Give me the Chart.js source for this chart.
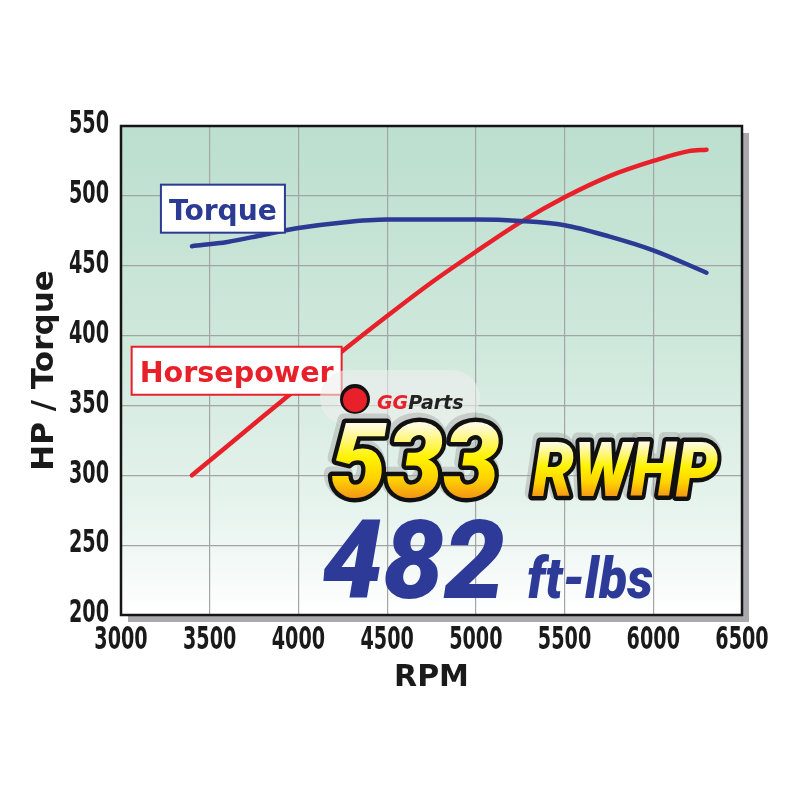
<!DOCTYPE html>
<html><head><meta charset="utf-8">
<script src="https://cdn.jsdelivr.net/npm/chart.js@4"></script>
<style>html,body{margin:0;padding:0;background:#fff}#wrap{width:800px;height:800px}</style>
</head><body><div id="wrap"><canvas id="c" width="800" height="800"></canvas></div>
<script>
// ---- data ----
const rpmTorque  = [3400, 3600, 3800, 4000, 4250, 4500, 5000, 5250, 5500, 5750, 6000, 6300];
const torque     = [464,  467,  472,  477,  481,  483,  483,  482,  479,  471,  461,  445];
const rpmHP      = [3400, 3600, 3800, 4000, 4200, 4500, 4750, 5000, 5250, 5500, 5750, 6000, 6200, 6300];
const horsepower = [300,  321,  342,  363,  384,  414,  438,  460,  481,  499,  514,  525,  532,  533];
const xTickValues = [3000, 3500, 4000, 4500, 5000, 5500, 6000, 6500];
const yTickValues = [200, 250, 300, 350, 400, 450, 500, 550];
const seriesNames = ['Torque', 'Horsepower'];
const peakHP = '533', peakHPUnit = 'RWHP';
const peakTq = '482', peakTqUnit = 'ft-lbs';
const xTitle = 'RPM', yTitle = 'HP / Torque';
const watermark = ['GG', 'Parts'];

const BLUE = '#2b3a93', RED = '#e8202a';
const AXISFONT = "'DejaVu Sans',sans-serif";

const pts = (xs, ys) => xs.map((x, i) => ({x, y: ys[i]}));

const bgPlugin = {
  id: 'bg',
  beforeDraw(chart) {
    const {ctx, chartArea: a} = chart;
    ctx.save();
    ctx.fillStyle = '#a9a9ae';
    ctx.fillRect(a.left + 7, a.top + 7, a.right - a.left, a.bottom - a.top);
    const g = ctx.createLinearGradient(0, a.top, 0, a.bottom);
    g.addColorStop(0, '#bcdfcf');
    g.addColorStop(0.45, '#cfe8dc');
    g.addColorStop(0.8, '#e8f4ef');
    g.addColorStop(1, '#ffffff');
    ctx.fillStyle = g;
    ctx.fillRect(a.left, a.top, a.right - a.left, a.bottom - a.top);
    ctx.restore();
  },
  beforeDatasetsDraw(chart) {
    const {ctx, chartArea: a} = chart;
    ctx.save();
    ctx.strokeStyle = '#151515';
    ctx.lineWidth = 2.5;
    ctx.strokeRect(a.left, a.top, a.right - a.left, a.bottom - a.top);
    ctx.restore();
  }
};

// condensed tick labels drawn at the positions given by the chart's own scales
const tickPlugin = {
  id: 'condensedTicks',
  afterDraw(chart) {
    const {ctx} = chart;
    const xs = chart.scales.x, ys = chart.scales.y;
    ctx.save();
    ctx.fillStyle = '#1a1a1a';
    ctx.font = `bold 32px ${AXISFONT}`;
    ctx.textBaseline = 'middle';
    const SX = 0.6;
    ys.ticks.forEach(t => {
      const y = ys.getPixelForValue(t.value);
      ctx.save();
      ctx.translate(109, y - 1);
      ctx.scale(SX, 1);
      ctx.textAlign = 'right';
      ctx.fillText(String(t.value), 0, 0);
      ctx.restore();
    });
    xs.ticks.forEach(t => {
      const x = xs.getPixelForValue(t.value);
      ctx.save();
      ctx.translate(x, 641);
      ctx.scale(SX, 1);
      ctx.textAlign = 'center';
      ctx.fillText(String(t.value), 0, 0);
      ctx.restore();
    });
    ctx.restore();
  }
};

function fitText(ctx, text, x, y, target) {
  const w = ctx.measureText(text).width;
  ctx.save();
  ctx.translate(x, y);
  ctx.scale(target / w, 1);
}

const labelPlugin = {
  id: 'labels',
  afterDatasetsDraw(chart) {
    const {ctx} = chart;
    const xs = chart.scales.x, ys = chart.scales.y;
    ctx.save();
    const boxes = [
      {text: seriesNames[0], color: BLUE, x: xs.getPixelForValue(3225), y: ys.getPixelForValue(508), w: 124, h: 48},
      {text: seriesNames[1], color: RED, x: xs.getPixelForValue(3060), y: ys.getPixelForValue(392), w: 210, h: 48}
    ];
    boxes.forEach(b => {
      ctx.fillStyle = '#ffffff';
      ctx.fillRect(b.x, b.y, b.w, b.h);
      ctx.strokeStyle = b.color;
      ctx.lineWidth = 2;
      ctx.strokeRect(b.x, b.y, b.w, b.h);
      ctx.fillStyle = b.color;
      ctx.font = "bold 28px 'DejaVu Sans',sans-serif";
      ctx.textAlign = 'left';
      ctx.textBaseline = 'alphabetic';
      fitText(ctx, b.text, b.x + 8, b.y + 35, b.w - 16);
      ctx.fillText(b.text, 0, 0);
      ctx.restore();
    });

    // watermark pill
    ctx.save();
    ctx.fillStyle = 'rgba(238,238,238,0.6)';
    ctx.beginPath();
    ctx.roundRect(320, 370, 160, 56, 28);
    ctx.fill();
    ctx.fillStyle = '#111';
    ctx.beginPath(); ctx.arc(355, 399, 15, 0, Math.PI * 2); ctx.fill();
    ctx.fillStyle = RED;
    ctx.beginPath(); ctx.arc(355, 400, 12, 0, Math.PI * 2); ctx.fill();
    ctx.font = "italic bold 19px 'DejaVu Sans',sans-serif";
    ctx.textBaseline = 'alphabetic';
    ctx.fillStyle = RED;
    ctx.fillText(watermark[0], 377, 409);
    const gw = ctx.measureText(watermark[0]).width;
    ctx.fillStyle = '#222';
    ctx.fillText(watermark[1], 377 + gw, 409);
    ctx.restore();

    const drawBig = (text, x, base, size, target, top, bot) => {
      ctx.font = `italic 900 ${size}px Roboto, 'DejaVu Sans', sans-serif`;
      ctx.textBaseline = 'alphabetic';
      ctx.lineJoin = 'round';
      fitText(ctx, text, x, base, target);
      ctx.strokeStyle = 'rgba(165,165,165,0.45)';
      ctx.lineWidth = 13;
      ctx.strokeText(text, -2, -3);
      ctx.strokeStyle = '#111';
      ctx.lineWidth = 9;
      ctx.strokeText(text, 0, 0);
      const g = ctx.createLinearGradient(0, top - base, 0, bot - base);
      g.addColorStop(0, '#fffbe0');
      g.addColorStop(0.45, '#fff200');
      g.addColorStop(0.75, '#ffd200');
      g.addColorStop(1, '#f39a16');
      ctx.fillStyle = g;
      ctx.fillText(text, 0, 0);
      ctx.restore();
    };
    drawBig(peakHP, 330, 497, 103, 170, 425, 497);
    drawBig(peakHPUnit, 532, 496, 76, 186, 443, 496);

    const drawBlue = (text, x, base, size, target) => {
      ctx.font = `italic 900 ${size}px Roboto, 'DejaVu Sans', sans-serif`;
      ctx.textBaseline = 'alphabetic';
      fitText(ctx, text, x, base, target);
      ctx.fillStyle = '#2e3a97';
      ctx.fillText(text, 0, 0);
      ctx.restore();
    };
    drawBlue(peakTq, 322, 598, 110, 183);
    drawBlue(peakTqUnit, 527, 598, 58, 126);
    ctx.restore();
  }
};

new Chart(document.getElementById('c'), {
  type: 'line',
  data: {
    datasets: [
      {label: seriesNames[0], data: pts(rpmTorque, torque), borderColor: BLUE, borderWidth: 4.5,
       pointRadius: 0, cubicInterpolationMode: 'monotone', borderCapStyle: 'round', fill: false},
      {label: seriesNames[1], data: pts(rpmHP, horsepower), borderColor: RED, borderWidth: 4.5,
       pointRadius: 0, cubicInterpolationMode: 'monotone', borderCapStyle: 'round', fill: false}
    ]
  },
  options: {
    responsive: false,
    animation: false,
    devicePixelRatio: 1,
    layout: {padding: {left: 0, top: 126, right: 58, bottom: 100}},
    plugins: {legend: {display: false}, tooltip: {enabled: false}},
    scales: {
      x: {
        type: 'linear', min: 3000, max: 6500,
        afterBuildTicks: s => { s.ticks = xTickValues.map(v => ({value: v})); },
        afterFit: s => { s.height = 85; },
        grid: {color: '#a4a4a4', lineWidth: 1.2, drawTicks: false},
        border: {display: false},
        ticks: {display: false},
        title: {display: true, text: xTitle, color: '#1a1a1a', padding: {top: 0, bottom: 4},
                font: {family: AXISFONT, weight: 'bold', size: 30}}
      },
      y: {
        type: 'linear', min: 200, max: 550,
        afterBuildTicks: s => { s.ticks = yTickValues.map(v => ({value: v})); },
        afterFit: s => { s.width = 121; },
        grid: {color: '#a4a4a4', lineWidth: 1.2, drawTicks: false},
        border: {display: false},
        ticks: {display: false},
        title: {display: true, text: yTitle, color: '#1a1a1a', padding: {top: 26, bottom: 0},
                font: {family: AXISFONT, weight: 'bold', size: 31}}
      }
    }
  },
  plugins: [bgPlugin, labelPlugin, tickPlugin]
});
</script>
</body></html>
